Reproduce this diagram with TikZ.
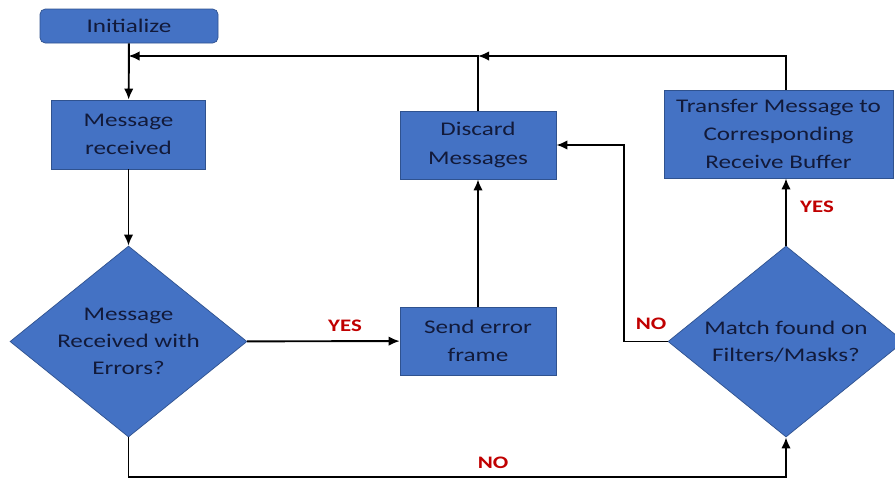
\documentclass[tikz,border=0pt]{standalone}
\usepackage{fontspec}
\setmainfont{Carlito}[FakeStretch=1.3]
\usetikzlibrary{shapes.geometric,arrows.meta}
\definecolor{boxblue}{HTML}{4472C4}
\definecolor{boxedge}{HTML}{2F528F}
\definecolor{boxtext}{RGB}{18,26,58}
\definecolor{labred}{HTML}{C00000}
\begin{document}
\begin{tikzpicture}[
  block/.style={rectangle, fill=boxblue, draw=boxedge, thin, text=boxtext, align=center, font=\fontsize{11}{16}\selectfont},
  decision/.style={diamond, fill=boxblue, draw=boxedge, thin, text=boxtext, align=center, shape aspect=1.24, inner sep=-6pt, font=\fontsize{11}{15.5}\selectfont},
  flow/.style={draw=black, line width=1.1pt, -{Latex[length=2.2mm,width=1.9mm]}},
  answer/.style={text=labred, font=\fontsize{10}{12}\selectfont\bfseries}]
\useasboundingbox (0,0) rectangle (17.9,-9.58);
% boxes
\node[block, rounded corners=3pt, minimum width=3.56cm, minimum height=0.68cm] (init) at (2.58,-0.52) {Initialize};
\node[block, minimum width=3.08cm, minimum height=1.38cm] (msgrcv) at (2.57,-2.69) {Message\\received};
\node[decision, minimum width=4.74cm, minimum height=3.82cm] (errdia) at (2.57,-6.83) {Message\\Received with\\Errors?};
\node[block, minimum width=3.12cm, minimum height=1.36cm] (senderr) at (9.56,-6.82) {Send error\\frame};
\node[block, minimum width=3.12cm, minimum height=1.36cm] (discard) at (9.56,-2.90) {Discard\\Messages};
\node[block, minimum width=4.58cm, minimum height=1.76cm] (transfer) at (15.57,-2.68) {Transfer Message to\\Corresponding\\Receive Buffer};
\node[decision, minimum width=4.72cm, minimum height=3.82cm] (matchdia) at (15.72,-6.83) {Match found on\\Filters/Masks?};
% return line
\coordinate (retA) at (9.56,-1.12);
\coordinate (retB) at (2.57,-1.12);
% connectors
\path [flow] (init) edge (msgrcv);
\path [flow] (msgrcv) edge (errdia);
\path [flow] (errdia) edge (senderr);
\path [flow] (senderr) edge (discard);
\draw [flow] (errdia.south) -- ++(0,-0.79) -| (matchdia.south);
\draw [flow] (matchdia.west) -- ++(-0.88,0) |- (discard.east);
\draw [flow] (matchdia.north) -- (matchdia.north |- transfer.south);
\draw [flow] (transfer.north -| matchdia.north) |- (retA);
\draw [flow] (discard.north) |- (retB);
% labels
\node[answer] (yesA) at (6.90,-6.52) {YES};
\node[answer] (noA) at (9.86,-9.26) {NO};
\node[answer] (noB) at (13.02,-6.48) {NO};
\node[answer] (yesB) at (16.34,-4.14) {YES};
\end{tikzpicture}
\end{document}
